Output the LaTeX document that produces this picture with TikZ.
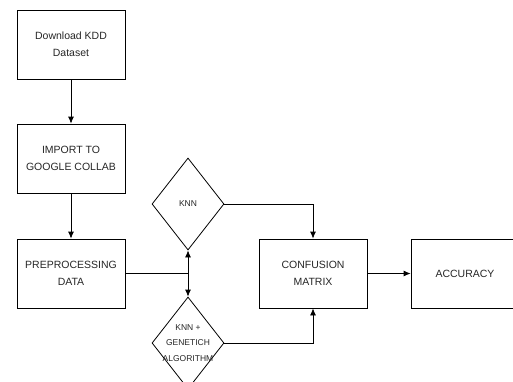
\documentclass[tikz,border=0pt]{standalone}
\usepackage{fontspec}
\setmainfont{Liberation Sans}
\usetikzlibrary{shapes.geometric,arrows.meta}

\begin{document}
\begin{tikzpicture}[x=1pt,y=-1pt,line width=0.8pt,>={Latex[length=7pt,width=6pt]},
        stepbox/.style={draw,minimum width=108pt,minimum height=69pt,align=center,
            font=\fontsize{10.5}{17}\selectfont,text=black!85},
        choice/.style={draw,diamond,minimum width=72pt,minimum height=92pt,inner sep=0pt},
        choicetext/.style={align=center,font=\fontsize{8.5}{15.5}\selectfont,text=black!85}]
        % fix the page size
        \useasboundingbox (0,0) rectangle (513,381);

        % the boxes of the flow
        \node[stepbox] (download) at (71,44.5) {Download KDD\\Dataset};
        \node[stepbox] (import) at (71,158.5) {IMPORT TO\\GOOGLE COLLAB};
        \node[stepbox] (prep) at (71,273.5) {PREPROCESSING\\DATA};
        \node[stepbox] (matrix) at (313,273.5) {CONFUSION\\MATRIX};
        \node[stepbox] (acc) at (465,273.5) {ACCURACY};

        % the two classifiers
        \node[choice] (knn) at (188,204) {};
        \node[choicetext] (knntext) at (knn.center) {KNN};
        \node[choice] (knnga) at (188,343) {};
        \node[choicetext] (knngatext) at (knnga.center) {KNN +\\GENETICH\\ALGORITHM};

        % split point between the classifiers
        \coordinate (split) at (188,273.5);

        % draw the connectors
        \draw[->] (download) -- (import);
        \draw[->] (import) -- (prep);
        \draw (prep.east) -- (split);
        \draw[->] (split) -- (knn.south);
        \draw[->] (split) -- (knnga.north);
        \draw[->] (knn.east) -| (matrix.north);
        \draw[->] (knnga.east) -| (matrix.south);
        \draw[->] (matrix) -- (acc);
    \end{tikzpicture}
\end{document}
